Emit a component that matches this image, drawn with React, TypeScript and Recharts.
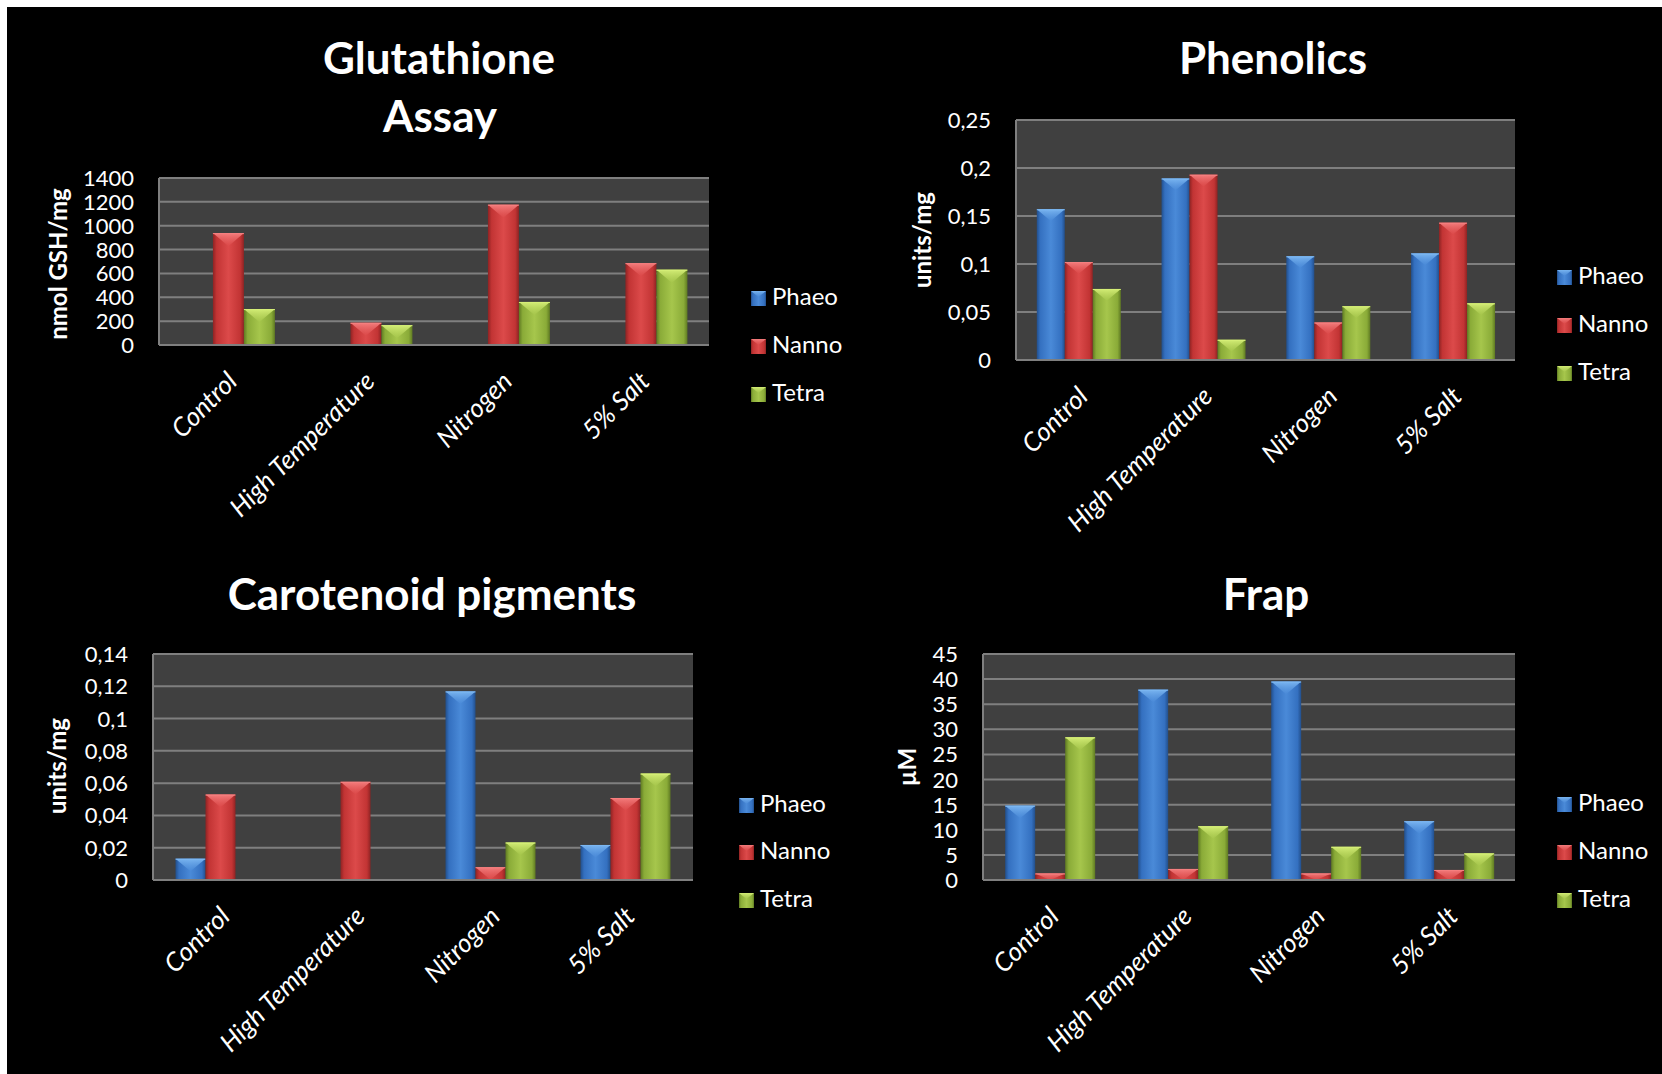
import React from "react";
import { BarChart, Bar, XAxis, YAxis, CartesianGrid } from "recharts";

const categories = ["Control", "High Temperature", "Nitrogen", "5% Salt"];
const seriesNames = ["Phaeo", "Nanno", "Tetra"];

const glutathionePhaeo = [0, 0, 0, 0];
const glutathioneNanno = [938, 186, 1176, 686];
const glutathioneTetra = [301, 166, 361, 631];
const glutathioneTicks = [0, 200, 400, 600, 800, 1000, 1200, 1400];

const phenolicsPhaeo = [0.157, 0.189, 0.108, 0.111];
const phenolicsNanno = [0.102, 0.193, 0.039, 0.143];
const phenolicsTetra = [0.074, 0.021, 0.056, 0.059];
const phenolicsTicks = [0, 0.05, 0.1, 0.15, 0.2, 0.25];

const carotenoidPhaeo = [0.0132, 0, 0.1168, 0.0217];
const carotenoidNanno = [0.0529, 0.0608, 0.0079, 0.0508];
const carotenoidTetra = [0, 0, 0.0232, 0.0659];
const carotenoidTicks = [0, 0.02, 0.04, 0.06, 0.08, 0.1, 0.12, 0.14];

const frapPhaeo = [14.8, 37.9, 39.5, 11.7];
const frapNanno = [1.3, 2.2, 1.3, 2.0];
const frapTetra = [28.4, 10.7, 6.6, 5.3];
const frapTicks = [0, 5, 10, 15, 20, 25, 30, 35, 40, 45];

const build = (p: number[], n: number[], t: number[]) =>
  categories.map((c, i) => ({ category: c, Phaeo: p[i], Nanno: n[i], Tetra: t[i] }));

const PAL = [
  { dark: "#224f8c", mid: "#3470c0", light: "#4a8ad8", bevel: "#7db8f2" },
  { dark: "#8e2323", mid: "#c23434", light: "#dc4a4a", bevel: "#f58080" },
  { dark: "#5f7a22", mid: "#8aab38", light: "#a6c64c", bevel: "#d6ef78" },
];

const FONT = "Lato, 'Open Sans', sans-serif";

const makeShape = (pi: number) => (props: any) => {
  const { x, y, width, height } = props;
  if (!(height > 0.3) || !(width > 0)) return <g />;
  const pal = PAL[pi];
  const d = Math.min(width * 0.42, height);
  return (
    <g>
      <rect x={x} y={y} width={width} height={height} fill={`url(#bargrad-${pi})`} />
      <polygon
        points={`${x},${y} ${x + width},${y} ${x + width / 2},${y + d}`}
        fill={`url(#bevelgrad-${pi})`}
      />
      <line x1={x} y1={y + 0.5} x2={x + width} y2={y + 0.5} stroke={pal.bevel} strokeWidth={1} />
    </g>
  );
};

const fmt = (v: number) => String(v).replace(".", ",");

const YTick = (props: any) => {
  const { x, y, payload } = props;
  return (
    <text x={x} y={y + 8} textAnchor="end" fill="#ffffff" fontSize={22} fontFamily={FONT}>
      {fmt(payload.value)}
    </text>
  );
};

const XTick = (props: any) => {
  const { x, y, payload } = props;
  const ax = x + 11;
  const ay = y + 38;
  return (
    <text
      x={ax}
      y={ay}
      transform={`rotate(-45, ${ax}, ${ay})`}
      textAnchor="end"
      fill="#ffffff"
      fontSize={26}
      fontStyle="italic"
      fontFamily={FONT}
    >
      {payload.value}
    </text>
  );
};

type PanelProps = {
  left: number;
  top: number;
  margin: { top: number; right: number; bottom: number; left: number };
  data: any[];
  ticks: number[];
};

const Panel = ({ left, top, margin, data, ticks }: PanelProps) => (
  <div style={{ position: "absolute", left, top }}>
    <BarChart width={831} height={537} data={data} margin={margin} barCategoryGap="16.67%" barGap={0}>
      <CartesianGrid vertical={false} fill="#404040" fillOpacity={1} stroke="#7f7f7f" strokeWidth={2} />
      <XAxis
        dataKey="category"
        height={100}
        interval={0}
        tickLine={false}
        tickSize={0}
        tickMargin={0}
        axisLine={{ stroke: "#7f7f7f", strokeWidth: 2 }}
        tick={<XTick />}
      />
      <YAxis
        type="number"
        width={60}
        domain={[0, ticks[ticks.length - 1]]}
        ticks={ticks}
        interval={0}
        tickLine={false}
        tickSize={0}
        tickMargin={25}
        axisLine={{ stroke: "#7f7f7f", strokeWidth: 2 }}
        tick={<YTick />}
      />
      {seriesNames.map((s, i) => (
        <Bar key={s} dataKey={s} shape={makeShape(i)} isAnimationActive={false} />
      ))}
    </BarChart>
  </div>
);

const LegendBlock = ({ x, ys }: { x: number; ys: number[] }) => (
  <g>
    {seriesNames.map((s, i) => (
      <g key={s}>
        <rect x={x} y={ys[i] - 14} width={15} height={15} fill={`url(#bargrad-${i})`} />
        <polygon
          points={`${x},${ys[i] - 14} ${x + 15},${ys[i] - 14} ${x + 7.5},${ys[i] - 8}`}
          fill={`url(#bevelgrad-${i})`}
        />
        <text x={x + 21} y={ys[i]} fill="#ffffff" fontSize={24} fontFamily={FONT}>
          {s}
        </text>
      </g>
    ))}
  </g>
);

const Title = ({ x, y, text }: { x: number; y: number; text: string }) => (
  <text x={x} y={y} textAnchor="middle" fill="#ffffff" fontSize={44} fontWeight={700} fontFamily={FONT}>
    {text}
  </text>
);

const YLabel = ({ x, y, text }: { x: number; y: number; text: string }) => (
  <text
    x={x}
    y={y}
    transform={`rotate(-90, ${x}, ${y})`}
    textAnchor="middle"
    fill="#ffffff"
    fontSize={24}
    fontWeight={700}
    fontFamily={FONT}
  >
    {text}
  </text>
);

export default function App() {
  return (
    <div style={{ position: "absolute", left: 0, top: 0, width: 1662, height: 1074, background: "#ffffff", overflow: "hidden" }}>
      <div style={{ position: "absolute", left: 7, top: 7, width: 1655, height: 1067, background: "#000000" }} />
      <svg width={0} height={0} style={{ position: "absolute" }}>
        <defs>
          {PAL.map((p, i) => (
            <linearGradient key={`bg${i}`} id={`bargrad-${i}`} x1="0" y1="0" x2="1" y2="0">
              <stop offset="0%" stopColor={p.dark} />
              <stop offset="12%" stopColor={p.mid} />
              <stop offset="50%" stopColor={p.light} />
              <stop offset="88%" stopColor={p.mid} />
              <stop offset="100%" stopColor={p.dark} />
            </linearGradient>
          ))}
          {PAL.map((p, i) => (
            <linearGradient key={`vg${i}`} id={`bevelgrad-${i}`} x1="0" y1="0" x2="0" y2="1">
              <stop offset="0%" stopColor={p.bevel} stopOpacity={0.95} />
              <stop offset="100%" stopColor={p.light} stopOpacity={0.6} />
            </linearGradient>
          ))}
        </defs>
      </svg>
      <Panel
        left={0}
        top={0}
        margin={{ top: 178, right: 122, bottom: 92, left: 99 }}
        data={build(glutathionePhaeo, glutathioneNanno, glutathioneTetra)}
        ticks={glutathioneTicks}
      />
      <Panel
        left={831}
        top={0}
        margin={{ top: 120, right: 147, bottom: 77, left: 125 }}
        data={build(phenolicsPhaeo, phenolicsNanno, phenolicsTetra)}
        ticks={phenolicsTicks}
      />
      <Panel
        left={0}
        top={537}
        margin={{ top: 117, right: 138, bottom: 94, left: 93 }}
        data={build(carotenoidPhaeo, carotenoidNanno, carotenoidTetra)}
        ticks={carotenoidTicks}
      />
      <Panel
        left={831}
        top={537}
        margin={{ top: 117, right: 147, bottom: 94, left: 92 }}
        data={build(frapPhaeo, frapNanno, frapTetra)}
        ticks={frapTicks}
      />
      <svg width={1662} height={1074} style={{ position: "absolute", left: 0, top: 0, pointerEvents: "none" }}>
        <Title x={439} y={74} text="Glutathione" />
        <Title x={440} y={132} text="Assay" />
        <Title x={1273} y={74} text="Phenolics" />
        <Title x={432} y={610} text="Carotenoid pigments" />
        <Title x={1266} y={610} text="Frap" />
        <YLabel x={67} y={264} text="nmol GSH/mg" />
        <YLabel x={931} y={240} text="units/mg" />
        <YLabel x={66} y={766} text="units/mg" />
        <YLabel x={916} y={767} text="µM" />
        <LegendBlock x={751} ys={[305, 353, 401]} />
        <LegendBlock x={1557} ys={[284, 332, 380]} />
        <LegendBlock x={739} ys={[812, 859, 907]} />
        <LegendBlock x={1557} ys={[811, 859, 907]} />
      </svg>
    </div>
  );
}
